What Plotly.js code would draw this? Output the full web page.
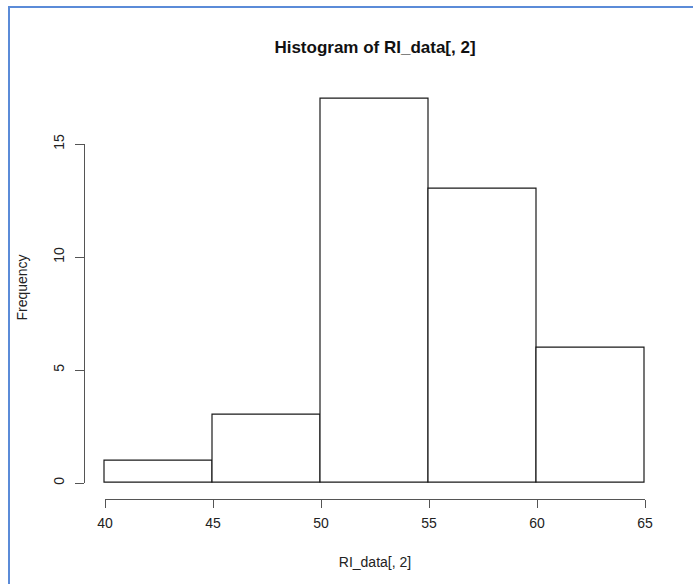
<!DOCTYPE html>
<html>
<head>
<meta charset="utf-8">
<script src="https://cdn.plot.ly/plotly-3.0.1.min.js"></script>
<style>
  html, body { margin: 0; padding: 0; background: #ffffff; }
  #frame { position: absolute; left: 8px; top: 6px; width: 700px; height: 600px;
           border-left: 2px solid #5b8bd8; border-top: 2px solid #5b8bd8; box-sizing: border-box; }
  #chart { position: absolute; left: 0; top: 0; width: 693px; height: 584px; }
</style>
</head>
<body>
<div id="frame"></div>
<div id="chart"></div>
<script>
// Data
const binEdges = [40, 45, 50, 55, 60, 65];
const counts = [1, 3, 17, 13, 6];
const yTicks = [0, 5, 10, 15];
const xTicks = [40, 45, 50, 55, 60, 65];
const titleText = "Histogram of RI_data[, 2]";
const xTitle = "RI_data[, 2]";
const yTitle = "Frequency";

const centers = counts.map((c, i) => (binEdges[i] + binEdges[i + 1]) / 2);
const widths = counts.map((c, i) => binEdges[i + 1] - binEdges[i]);

// pixel geometry helpers
const W = 693, H = 584;
const M = { l: 60, r: 20, t: 20, b: 40 };
const pw = W - M.l - M.r, ph = H - M.t - M.b;
const fx = px => (px - M.l) / pw;
const fy = py => (H - M.b - py) / ph;

// x: 40 -> 105px, 65 -> 645px ; y: 0 -> 483px, 15 -> 144px
const xpu = (645 - 105) / 25, ypu = (483 - 144) / 15;
const xPad = 0.25, yTop = 17.4, yPadLow = 0.1;

const font = "Liberation Sans, Arial, sans-serif";

const traces = [
  {
    type: "bar", x: centers, y: counts, width: widths,
    marker: { color: "#ffffff", line: { color: "#1a1a1a", width: 1.2 } },
    hoverinfo: "x+y", showlegend: false, xaxis: "x", yaxis: "y"
  },
  { type: "scatter", x: [null], y: [null], xaxis: "x2", yaxis: "y2",
    hoverinfo: "skip", showlegend: false, mode: "markers" }
];

const layout = {
  width: W, height: H,
  margin: M,
  paper_bgcolor: "rgba(0,0,0,0)",
  plot_bgcolor: "rgba(0,0,0,0)",
  font: { family: font, size: 14, color: "#222" },
  bargap: 0,
  title: { text: "<b>" + titleText + "</b>", x: 375 / W, xanchor: "center",
           y: 1 - 47 / H, yanchor: "middle",
           font: { family: font, size: 17, color: "#111" } },
  // hidden data axes (slightly padded so the bar outlines are not clipped)
  xaxis: {
    range: [40 - xPad, 65 + xPad],
    domain: [fx(105 - xPad * xpu), fx(645 + xPad * xpu)],
    visible: false, showgrid: false, zeroline: false
  },
  yaxis: {
    range: [-yPadLow, yTop],
    domain: [fy(483 + yPadLow * ypu), fy(483 - yTop * ypu)],
    anchor: "free", position: fx(84),
    showline: false, ticks: "", showticklabels: false,
    showgrid: false, zeroline: false,
    title: { text: yTitle, standoff: 52, font: { family: font, size: 14, color: "#222" } }
  },
  // visible R-style axes
  xaxis2: {
    range: [40, 65], domain: [fx(105), fx(645)],
    anchor: "free", position: fy(499),
    showline: true, linecolor: "#555", linewidth: 1.2,
    ticks: "outside", ticklen: 8, tickcolor: "#555", tickwidth: 1.2,
    tickvals: xTicks, showgrid: false, zeroline: false, ticklabelstandoff: 3,
    tickfont: { family: font, size: 14, color: "#222" },
    title: { text: xTitle, standoff: 27, font: { family: font, size: 14, color: "#222" } }
  },
  yaxis2: {
    range: [0, 15], domain: [fy(483), fy(144)],
    anchor: "free", position: fx(84),
    showline: true, linecolor: "#555", linewidth: 1.2,
    ticks: "outside", ticklen: 9, tickcolor: "#555", tickwidth: 1.2,
    tickvals: yTicks, tickangle: -90, showgrid: false, zeroline: false,
    ticklabelstandoff: 5,
    tickfont: { family: font, size: 14, color: "#222" }
  }
};

Plotly.newPlot("chart", traces, layout, { displayModeBar: false });
</script>
</body>
</html>
